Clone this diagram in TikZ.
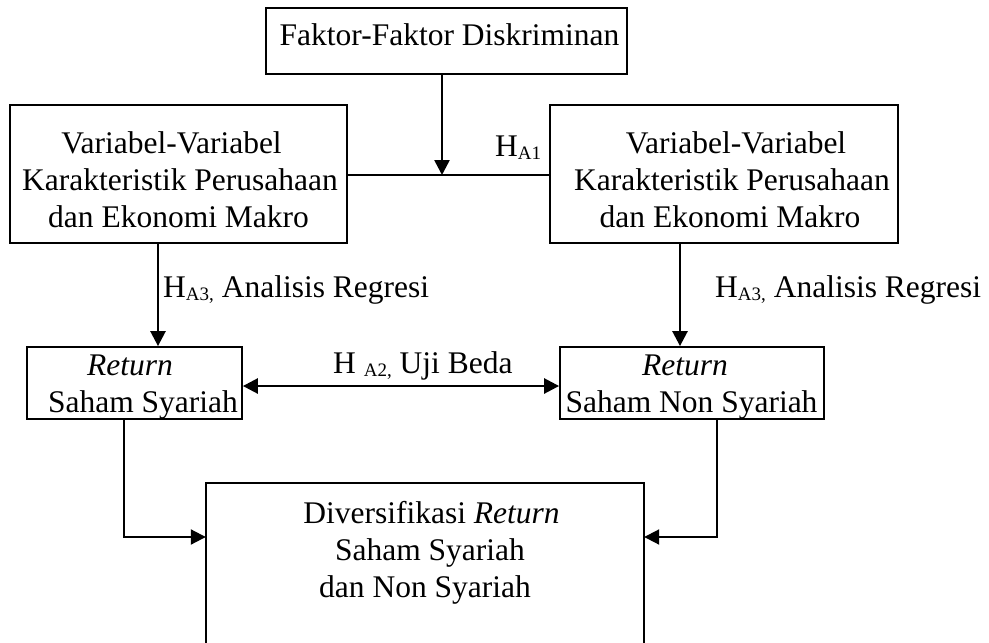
\documentclass[tikz,border=0pt]{standalone}
\usepackage{fontspec}
\setmainfont{Liberation Serif}
\usetikzlibrary{arrows.meta}
\newcommand{\subs}[1]{\raisebox{-3.5pt}{\fontsize{19}{19}\selectfont #1}}
\begin{document}
\begin{tikzpicture}[x=1pt,y=-1pt,
  boxline/.style={line width=1.8pt},
  box/.style={draw, boxline, inner sep=0pt},
  txt/.style={inner sep=0pt, anchor=base, font=\fontsize{31.5}{37}\selectfont},
  tip/.tip={Triangle[length=15pt,width=15pt]},
  arr/.style={line width=2.6pt, -tip},
  thinarr/.style={line width=2pt, -tip},
  dblarr/.style={line width=2.6pt, tip-tip}]
\useasboundingbox (0,0) rectangle (989,643);

% boxes
\node[box, minimum width=361pt, minimum height=66pt] (top) at (446.5,41) {};
\node[box, minimum width=337pt, minimum height=138pt] (left) at (178.5,174) {};
\node[box, minimum width=348pt, minimum height=138pt] (right) at (724,174) {};
\node[box, minimum width=215pt, minimum height=72pt] (retL) at (134.5,383) {};
\node[box, minimum width=264pt, minimum height=72pt] (retR) at (692,383) {};
\node[inner sep=0pt, minimum width=438pt, minimum height=162pt] (div) at (425,564) {};
\draw[boxline] (div.south west) -- (div.north west) -- (div.north east) -- (div.south east);

% texts
\node[txt] (t1) at (449.5,45) {Faktor-Faktor Diskriminan};
\node[txt] (l1) at (171.5,153) {Variabel-Variabel};
\node[txt] (l2) at (180,190) {Karakteristik Perusahaan};
\node[txt] (l3) at (178.5,227) {dan Ekonomi Makro};
\node[txt] (r1) at (736,153) {Variabel-Variabel};
\node[txt] (r2) at (732,190) {Karakteristik Perusahaan};
\node[txt] (r3) at (730,227) {dan Ekonomi Makro};
\node[txt] (rl1) at (130,375) {\itshape Return};
\node[txt] (rl2) at (143,412) {Saham Syariah};
\node[txt] (rr1) at (685,375) {\itshape Return};
\node[txt] (rr2) at (691.5,412) {Saham Non Syariah};
\node[txt] (d1) at (431.5,523) {Diversifikasi \itshape Return};
\node[txt] (d2) at (430,560) {Saham Syariah};
\node[txt] (d3) at (425,597) {dan Non Syariah};

% labels
\node[txt, anchor=base west] (ha1) at (495,156) {H\subs{A1}};
\node[txt, anchor=base west] (ha3l) at (163,297) {H\subs{A3,} Analisis Regresi};
\node[txt, anchor=base west] (ha3r) at (715,297) {H\subs{A3,} Analisis Regresi};
\node[txt, anchor=base west] (ha2) at (333,373) {H \subs{A2,} Uji Beda};

% connectors
\coordinate (j) at (442,175);
\draw[arr] (top.south -| j) -- (j);
\draw[boxline] (left.east |- j) -- (right.west |- j);
\coordinate (aL) at (158,0);
\draw[arr] (aL |- left.south) -- (aL |- retL.north);
\coordinate (aR) at (680,0);
\draw[arr] (aR |- right.south) -- (aR |- retR.north);
\coordinate (m) at (0,386);
\draw[dblarr] (retL.east |- m) -- (retR.west |- m);
\coordinate (bL) at (124,537);
\draw[thinarr] (bL |- retL.south) -- (bL) -- (div.west |- bL);
\coordinate (bR) at (717,537);
\draw[thinarr] (bR |- retR.south) -- (bR) -- (div.east |- bR);
\end{tikzpicture}
\end{document}
